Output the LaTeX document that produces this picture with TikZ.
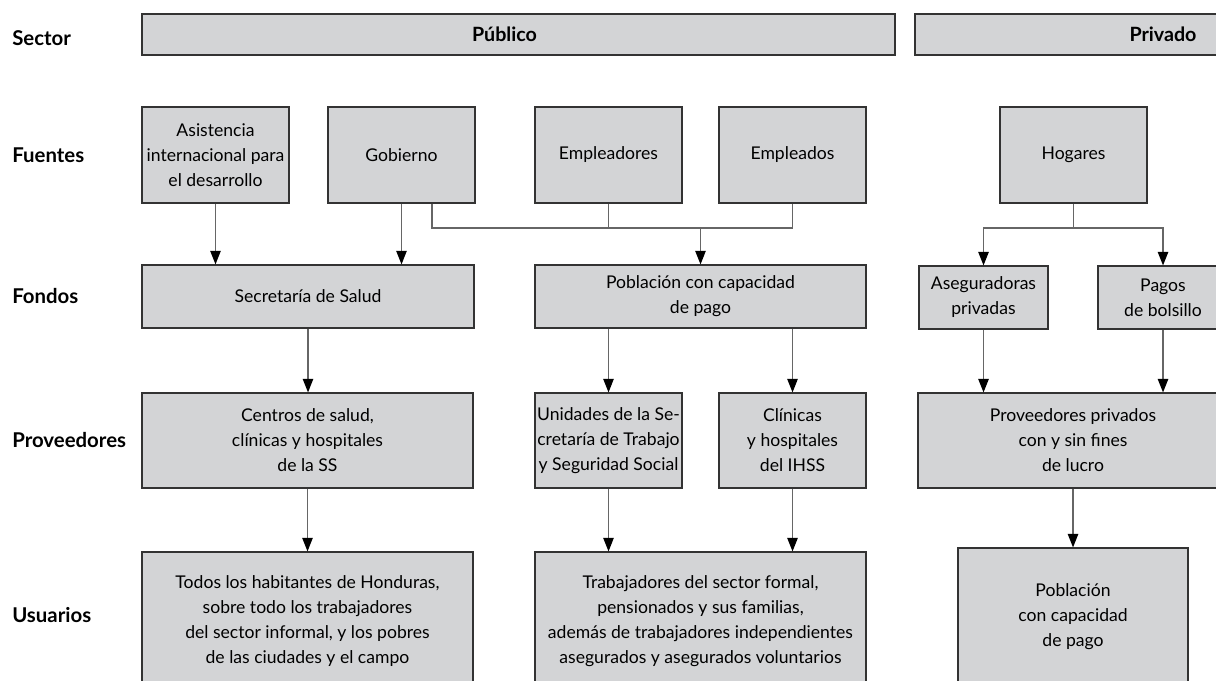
\documentclass[tikz,border=0pt]{standalone}
\usepackage{fontspec}
\setmainfont{Lato}
\usetikzlibrary{arrows.meta}

\definecolor{boxgray}{HTML}{D3D4D6}
\def\pxu{0.25mm}

\begin{document}
\begin{tikzpicture}[x=0.25mm, y=-0.25mm, font=\fontsize{12.5}{17.8}\selectfont]
	\tikzstyle{rowStyle}=[anchor=west, inner sep=0pt, font=\fontsize{14.5}{17}\selectfont\bfseries]
	\tikzstyle{boxStyle}=[draw=black!80, fill=boxgray, line width=0.8pt, align=center, inner sep=1pt]
	\tikzstyle{headStyle}=[boxStyle, font=\fontsize{14}{17}\selectfont\bfseries]
	\tikzstyle{linkStyle}=[draw=black!60, line width=1pt]
	\tikzstyle{arrowStyle}=[linkStyle, -{Triangle[length=3.4mm, width=2.6mm, color=black]}]
	\useasboundingbox (0,0) rectangle (1216,680);
	% row labels
	\node[rowStyle] (r0) at (12,38) {Sector};
	\node[rowStyle] (r1) at (12,155) {Fuentes};
	\node[rowStyle] (r2) at (12,296) {Fondos};
	\node[rowStyle] (r3) at (12,440) {Proveedores};
	\node[rowStyle] (r4) at (12,615) {Usuarios};
	% sector
	\node[headStyle, minimum width=753*\pxu, minimum height=41*\pxu] (s0) at (518.5,34.5) {\hspace*{-7mm}Público};
	\node[headStyle, minimum width=496*\pxu, minimum height=41*\pxu] (s1) at (1163,34.5) {Privado};
	% fuentes
	\node[boxStyle, minimum width=147*\pxu, minimum height=96*\pxu] (f0) at (215.5,155) {Asistencia\\internacional para\\el desarrollo};
	\node[boxStyle, minimum width=147*\pxu, minimum height=96*\pxu] (f1) at (401.5,155) {Gobierno};
	\node[boxStyle, minimum width=147*\pxu, minimum height=96*\pxu] (f2) at (608.5,155) {Empleadores};
	\node[boxStyle, minimum width=147*\pxu, minimum height=96*\pxu] (f3) at (792.5,155) {Empleados};
	\node[boxStyle, minimum width=147*\pxu, minimum height=96*\pxu] (f4) at (1073.5,155) {Hogares};
	% fondos
	\node[boxStyle, minimum width=332*\pxu, minimum height=63*\pxu] (d0) at (308,296.5) {Secretaría de Salud};
	\node[boxStyle, minimum width=331*\pxu, minimum height=63*\pxu] (d1) at (700.5,296.5) {Población con capacidad\\de pago};
	\node[boxStyle, minimum width=129*\pxu, minimum height=63*\pxu] (d2) at (983.5,297.5) {Aseguradoras\\privadas};
	\node[boxStyle, minimum width=130*\pxu, minimum height=63*\pxu] (d3) at (1163,297.5) {Pagos\\de bolsillo};
	% proveedores
	\node[boxStyle, minimum width=331*\pxu, minimum height=95*\pxu] (p0) at (307.5,440.5) {Centros de salud,\\clínicas y hospitales\\de la SS};
	\node[boxStyle, minimum width=147*\pxu, minimum height=95*\pxu] (p1) at (608.5,440.5) {Unidades de la Se-\\cretaría de Trabajo\\y Seguridad Social};
	\node[boxStyle, minimum width=147*\pxu, minimum height=95*\pxu] (p2) at (792.5,440.5) {Clínicas\\y hospitales\\del IHSS};
	\node[boxStyle, minimum width=310*\pxu, minimum height=95*\pxu] (p3) at (1073,440.5) {Proveedores privados\\con y sin fines\\de lucro};
	% usuarios
	\node[boxStyle, minimum width=331*\pxu, minimum height=138*\pxu] (u0) at (307.5,621) {Todos los habitantes de Honduras,\\sobre todo los trabajadores\\del sector informal, y los pobres\\de las ciudades y el campo};
	\node[boxStyle, minimum width=331*\pxu, minimum height=138*\pxu] (u1) at (700.5,621) {Trabajadores del sector formal,\\pensionados y sus familias,\\además de trabajadores independientes\\asegurados y asegurados voluntarios};
	\node[boxStyle, minimum width=230*\pxu, minimum height=138*\pxu] (u2) at (1073,617) {Población\\con capacidad\\de pago};
	% junctions
	\coordinate (j0) at (432,228);
	\coordinate (j1) at (700.5,228);
	\coordinate (j2) at (1073.5,228);
	% connectors
	\draw[arrowStyle] (f0.south) -- (f0.south |- d0.north);
	\draw[arrowStyle] (f1.south) -- (f1.south |- d0.north);
	\draw[linkStyle] (f1.south -| j0) -- (j0) -| (f3.south);
	\draw[linkStyle] (f2.south) -- (f2.south |- j0);
	\draw[arrowStyle] (j1) -- (d1.north);
	\draw[linkStyle] (f4.south) -- (j2);
	\draw[arrowStyle] (j2) -| (d2.north);
	\draw[arrowStyle] (j2) -| (d3.north);
	\draw[arrowStyle] (d0.south) -- (d0.south |- p0.north);
	\draw[arrowStyle] (d1.south -| p1.north) -- (p1.north);
	\draw[arrowStyle] (d1.south -| p2.north) -- (p2.north);
	\draw[arrowStyle] (d2.south) -- (d2.south |- p3.north);
	\draw[arrowStyle] (d3.south) -- (d3.south |- p3.north);
	\draw[arrowStyle] (p0.south) -- (u0.north);
	\draw[arrowStyle] (p1.south) -- (p1.south |- u1.north);
	\draw[arrowStyle] (p2.south) -- (p2.south |- u1.north);
	\draw[arrowStyle] (p3.south) -- (u2.north);
\end{tikzpicture}
\end{document}
